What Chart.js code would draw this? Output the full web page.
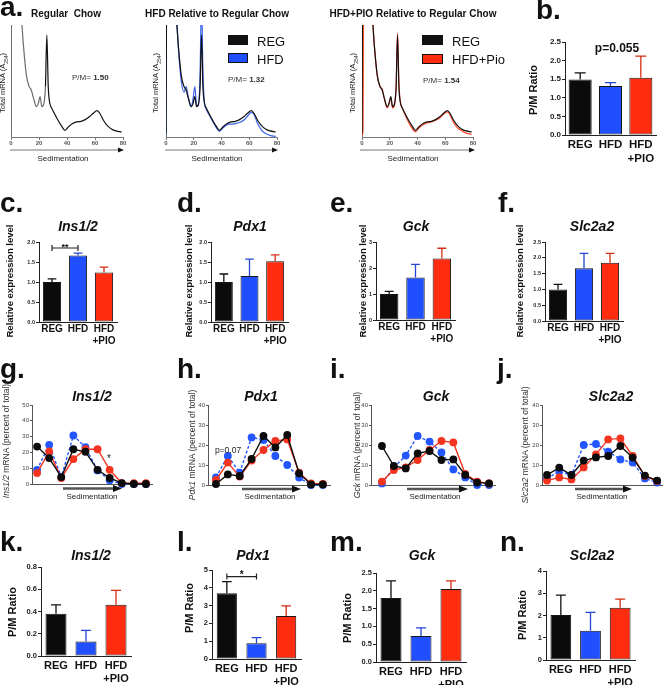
<!DOCTYPE html>
<html>
<head>
<meta charset="utf-8">
<script src="https://cdn.jsdelivr.net/npm/chart.js@4.4.1/dist/chart.umd.min.js"></script>
<style>
html,body{margin:0;padding:0;background:#fff;}
body{width:663px;height:685px;position:relative;overflow:hidden;font-family:"Liberation Sans",Arial,Helvetica,sans-serif;color:#111;}
canvas{position:absolute;}
.t{position:absolute;white-space:nowrap;line-height:1;}
.box{position:absolute;border:1px solid #111;box-sizing:border-box;}
#ov{position:absolute;left:0;top:0;z-index:3;}
</style>
</head>
<body>
<svg id="ov" width="663" height="685"></svg>
<script>
// ================= DATA =================
const groups = ['REG', 'HFD', ['HFD', '+PIO']];

// polysome profiles (panel a), sedimentation position vs A254 (relative units)
const sedX    = [0, 0.7, 1.3, 7.5, 9, 11, 13, 14.5, 16, 18.2, 19.5, 20.8, 22, 23.5, 24.6, 25.6, 26.6, 27.6, 29, 31, 34, 36.5, 38.5, 41, 44, 47, 50, 53, 56, 59, 61.5, 63.5, 66, 69, 72, 75, 79];
const profReg = [3, 180, 180, 105, 80, 55, 45, 42, 35, 27, 30, 36, 27, 30, 45, 91, 45, 31, 26, 21, 14, 9, 6, 9, 12, 13.5, 14, 15.5, 18, 21.5, 23.5, 21, 15, 10, 7, 5.5, 4.5];
const profHfd = [2, 180, 180, 110, 78, 50, 40, 45, 36, 27, 34, 45, 29, 28, 60, 125, 60, 32, 25, 20, 13, 8, 5, 8, 11, 11.5, 12, 13, 15, 19, 22, 20, 12, 6, 3, 1.5, 0.5];
const profPio = [1, 5, 150, 108, 80, 55, 45, 43, 35, 26, 30, 35, 26, 29, 45, 93, 48, 32, 26, 20, 12, 7, 4.5, 8, 11, 12.5, 13.5, 15, 17, 20.5, 22.5, 19.5, 13, 8, 5.5, 3.5, 2.5];
const profTicks = [0, 20, 40, 60, 80];

// b: P/M ratio
const bMean = [1.49, 1.32, 1.54], bErr = [0.18, 0.09, 0.58];
// c-f: relative expression level
const cMean = [1.0, 1.66, 1.24], cErr = [0.08, 0.06, 0.13];
const dMean = [1.0, 1.15, 1.52], dErr = [0.20, 0.42, 0.16];
const eMean = [1.0, 1.63, 2.37], eErr = [0.10, 0.51, 0.39];
const fMean = [1.0, 1.67, 1.84], fErr = [0.16, 0.47, 0.30];
// g-j: mRNA percent of total per gradient fraction
const fractions = [1, 2, 3, 4, 5, 6, 7, 8, 9, 10];
const gReg = [23.7, 16.4, 4.4, 22, 20.4, 9, 3.8, 0.6, 0, 0];
const gHfd = [9, 24.8, 4.4, 30.7, 23.3, 8.6, 2.3, 0, 0, 0];
const gPio = [6.9, 20.6, 3.8, 15.8, 22, 22, 9, 0.6, 0.5, 0.5];
const hReg = [0.5, 5.3, 4.5, 13, 24.5, 18.8, 25, 5.8, 0.3, 0.3];
const hHfd = [3.8, 14.5, 6.2, 23.8, 22.5, 14.5, 10, 3.7, 0, 0];
const hPio = [2.5, 11.2, 4.2, 12.2, 17.5, 22, 22.8, 6.2, 0.8, 0.5];
const iReg = [19.5, 9.5, 8.3, 15.8, 17, 12.5, 12.8, 5, 1.2, 0.8];
const iHfd = [0.8, 8.8, 14.7, 24.5, 21.7, 16.3, 7.8, 3.8, 0, 0];
const iPio = [1.7, 7.5, 8.8, 12.5, 17.5, 22, 21.3, 5.5, 1.7, 0.8];
const jReg = [5, 8.7, 5, 12.2, 13.8, 14.5, 19.5, 13.7, 4.7, 2.2];
const jHfd = [3.3, 6.7, 5, 20, 20.5, 16.7, 12.8, 11.2, 3.3, 1.2];
const jPio = [2.2, 3.8, 2.8, 8.8, 15.3, 22.8, 23.3, 14.5, 4.5, 2];
// k-n: P/M ratio per gene
const kMean = [0.38, 0.13, 0.46], kErr = [0.08, 0.10, 0.13];
const lMean = [3.70, 0.88, 2.42], lErr = [0.65, 0.32, 0.56];
const mMean = [1.80, 0.73, 2.05], mErr = [0.48, 0.23, 0.23];
const nMean = [2.02, 1.32, 2.35], nErr = [0.90, 0.82, 0.39];

// ================= STYLE =================
const BLACK = '#0b0b0b', BLUE = '#1f4fff', RED = '#ff2c10';
const LBLUE = '#2356ff', LRED = '#f5341f';
const FONT = '"Liberation Sans", Arial, Helvetica, sans-serif';
Chart.defaults.font.family = FONT;
Chart.defaults.animation = false;
Chart.defaults.events = [];
Chart.defaults.plugins.legend.display = false;
Chart.defaults.plugins.tooltip.enabled = false;

function mkCanvas(x, y, w, h) {
  const c = document.createElement('canvas');
  c.width = w; c.height = h;
  c.style.left = x + 'px'; c.style.top = y + 'px';
  c.style.width = w + 'px'; c.style.height = h + 'px';
  document.body.appendChild(c);
  return c;
}

const errBars = {
  id: 'errBars',
  afterDatasetsDraw(chart) {
    const ds = chart.data.datasets[0];
    if (!ds.err) return;
    const meta = chart.getDatasetMeta(0), ys = chart.scales.y, ctx = chart.ctx;
    const cols = ['#111', '#2446d6', '#d62a12'];
    meta.data.forEach((bar, i) => {
      const top = ys.getPixelForValue(ds.data[i] + ds.err[i]);
      const w = bar.width * 0.48;
      ctx.save();
      ctx.strokeStyle = cols[i]; ctx.lineWidth = 1.3;
      ctx.beginPath();
      ctx.moveTo(bar.x, bar.y); ctx.lineTo(bar.x, top);
      ctx.moveTo(bar.x - w / 2, top); ctx.lineTo(bar.x + w / 2, top);
      ctx.stroke();
      ctx.restore();
    });
    const b = ds.bracket;
    if (b) {
      const y = ys.getPixelForValue(b.value);
      const x1 = meta.data[b.from].x, x2 = meta.data[b.to].x;
      ctx.save();
      ctx.strokeStyle = '#222'; ctx.lineWidth = 1.2;
      ctx.beginPath();
      ctx.moveTo(x1, y); ctx.lineTo(x2, y);
      ctx.moveTo(x1, y - 3); ctx.lineTo(x1, y + 3);
      ctx.moveTo(x2, y - 3); ctx.lineTo(x2, y + 3);
      ctx.stroke();
      ctx.fillStyle = '#111';
      ctx.font = 'bold ' + b.fs + 'px ' + FONT;
      ctx.textAlign = 'center'; ctx.textBaseline = 'alphabetic';
      ctx.fillText(b.text, (x1 + x2) / 2, y + b.dy);
      ctx.restore();
    }
  }
};

function barChart(geo, means, errs, yMax, yStep, dec, o) {
  const yW = 24, xH = 34, padT = 6, padR = 3;
  const [L, R, T, B] = geo;
  const cv = mkCanvas(L - yW, T - padT, yW + (R - L) + padR, padT + (B - T) + xH);
  new Chart(cv, {
    type: 'bar',
    data: { labels: groups, datasets: [{
      data: means, err: errs, bracket: o.bracket,
      backgroundColor: [BLACK, BLUE, RED], borderColor: '#151515', borderWidth: 1,
      borderSkipped: false, categoryPercentage: 1, barPercentage: o.bp
    }]},
    options: {
      responsive: false, animation: false,
      layout: { padding: { top: padT, right: padR, left: 0, bottom: 0 } },
      scales: {
        x: {
          grid: { display: false, drawTicks: false },
          border: { display: true, color: '#222', width: 1 },
          ticks: { font: { size: o.xfs, weight: 'bold' }, color: '#111', padding: o.xpad, maxRotation: 0, autoSkip: false },
          afterFit: s => { s.height = xH; }
        },
        y: {
          min: 0, max: yMax,
          grid: { display: true, drawOnChartArea: false, drawTicks: true, tickLength: 3, color: '#222' },
          border: { display: true, color: '#222', width: 1 },
          ticks: { stepSize: yStep, font: { size: o.yfs, weight: 'bold' }, color: '#222', padding: 1, callback: v => v.toFixed(dec) },
          afterFit: s => { s.width = yW; }
        }
      }
    },
    plugins: [errBars]
  });
}

function lineSet(vals, color, dash, order) {
  return {
    data: fractions.map((f, i) => ({ x: f, y: vals[i] })),
    borderColor: color, backgroundColor: color,
    pointBackgroundColor: color, pointBorderColor: color, pointBorderWidth: 0,
    borderDash: dash, borderWidth: 1.4, pointRadius: 3.9, order: order, tension: 0, clip: false
  };
}

function lineChart(geo, reg, hfd, pio, yMax, xMin, xMax) {
  const yW = 16, xH = 6, padT = 6, padR = 4;
  const [L, R, T, B] = geo;
  const cv = mkCanvas(L - yW, T - padT, yW + (R - L) + padR, padT + (B - T) + xH);
  new Chart(cv, {
    type: 'line',
    data: { datasets: [lineSet(reg, BLACK, [], 1), lineSet(pio, LRED, [], 2), lineSet(hfd, LBLUE, [3, 2], 3)] },
    options: {
      responsive: false, animation: false,
      layout: { padding: { top: padT, right: padR, left: 0, bottom: 0 } },
      scales: {
        x: {
          type: 'linear', min: xMin, max: xMax,
          grid: { display: false, drawTicks: false },
          border: { display: true, color: '#555', width: 1 },
          ticks: { display: false },
          afterFit: s => { s.height = xH; }
        },
        y: {
          min: 0, max: yMax,
          grid: { display: true, drawOnChartArea: false, drawTicks: true, tickLength: 2, color: '#555' },
          border: { display: true, color: '#555', width: 1 },
          ticks: { stepSize: 10, font: { size: 6 }, color: '#444', padding: 1 },
          afterFit: s => { s.width = yW; }
        }
      }
    }
  });
}

function profSet(vals, color, seg) {
  const d = {
    data: sedX.map((x, i) => ({ x: x, y: vals[i] })),
    borderColor: color, borderWidth: 1.2, pointRadius: 0,
    cubicInterpolationMode: 'monotone', fill: false
  };
  if (seg) d.segment = { borderColor: c => (c.p0.parsed.x < 24 ? '#6d6d6d' : '#111') };
  return d;
}

function profChart(geo, sets) {
  const yW = 3, xH = 14, padT = 0, padR = 6;
  const [L, R, T, B] = geo;
  const cv = mkCanvas(L - yW, T - padT, yW + (R - L) + padR, padT + (B - T) + xH);
  new Chart(cv, {
    type: 'line',
    data: { datasets: sets },
    options: {
      responsive: false, animation: false,
      layout: { padding: { top: padT, right: padR, left: 0, bottom: 0 } },
      scales: {
        x: {
          type: 'linear', min: 0, max: 80,
          afterBuildTicks: s => { s.ticks = profTicks.map(v => ({ value: v })); },
          grid: { display: true, drawOnChartArea: false, drawTicks: true, tickLength: 3, color: '#777' },
          border: { display: true, color: '#777', width: 1 },
          ticks: { font: { size: 6, weight: 'bold' }, color: '#555', padding: 0, maxRotation: 0 },
          afterFit: s => { s.height = xH; }
        },
        y: {
          min: 0, max: 100,
          grid: { display: false },
          border: { display: true, color: '#777', width: 1 },
          ticks: { display: false },
          afterFit: s => { s.width = yW; }
        }
      }
    }
  });
}

// ================= CHARTS =================
profChart([11, 123, 25, 137], [profSet(profReg, '#111', true)]);
profChart([166, 277, 25, 137], [profSet(profReg, '#111'), profSet(profHfd, '#3a62ea')]);
profChart([362, 473, 25, 137], [profSet(profReg, '#111'), profSet(profPio, '#ff4a2e')]);

barChart([565, 656, 42, 135], bMean, bErr, 2.5, 0.5, 1, { bp: 0.76, xfs: 11.5, yfs: 8, xpad: 3 });

barChart([39, 117, 242, 322], cMean, cErr, 2, 0.5, 1, { bp: 0.7, xfs: 10, yfs: 5.5, xpad: 1,
  bracket: { from: 0, to: 1, value: 1.85, text: '**', fs: 9, dy: 1.5 } });
barChart([211, 288, 242, 322], dMean, dErr, 2, 0.5, 1, { bp: 0.7, xfs: 10, yfs: 5.5, xpad: 1 });
barChart([376, 455, 242, 320], eMean, eErr, 3, 1, 0, { bp: 0.7, xfs: 10, yfs: 5.5, xpad: 1 });
barChart([545, 623, 242, 321], fMean, fErr, 2.5, 0.5, 1, { bp: 0.7, xfs: 10, yfs: 5.5, xpad: 1 });

lineChart([32, 152, 405, 484], gReg, gHfd, gPio, 50, 0.58, 10.5);
lineChart([208, 330, 405, 485], hReg, hHfd, hPio, 40, 0.33, 10.6);
lineChart([371, 495, 405, 485], iReg, iHfd, iPio, 40, 0.08, 10.5);
lineChart([542, 662, 405, 485], jReg, jHfd, jPio, 40, 0.59, 10.4);

barChart([41, 131, 567, 656], kMean, kErr, 0.8, 0.2, 1, { bp: 0.7, xfs: 11, yfs: 7.5, xpad: 3 });
barChart([212, 301, 570, 659], lMean, lErr, 5, 1, 0, { bp: 0.68, xfs: 11, yfs: 7.5, xpad: 3,
  bracket: { from: 0, to: 1, value: 4.63, text: '*', fs: 10, dy: 1 } });
barChart([376, 466, 573, 662], mMean, mErr, 2.5, 0.5, 1, { bp: 0.7, xfs: 11, yfs: 7.5, xpad: 3 });
barChart([546, 635, 571, 660], nMean, nErr, 4, 1, 0, { bp: 0.7, xfs: 11, yfs: 7.5, xpad: 3 });

// ================= TEXT =================
function T(html, x, y, fs, o) {
  o = o || {};
  const d = document.createElement('div');
  d.className = 't'; d.innerHTML = html;
  d.style.fontSize = fs + 'px';
  if (o.b) d.style.fontWeight = 'bold';
  if (o.i) d.style.fontStyle = 'italic';
  d.style.color = o.c || '#111';
  d.style.left = x + 'px'; d.style.top = y + 'px';
  let tr = o.a === 'l' ? 'translate(0,-50%)' : 'translate(-50%,-50%)';
  if (o.r) tr = 'translate(-50%,-50%) rotate(-90deg)';
  d.style.transform = tr;
  d.style.zIndex = 4;
  document.body.appendChild(d);
}
// panel letters
[['a.', 0, 17], ['b.', 536, 20], ['c.', 0, 213], ['d.', 177, 213], ['e.', 330, 213], ['f.', 498, 213],
 ['g.', 0, 379], ['h.', 177, 379], ['i.', 330, 379], ['j.', 497, 379],
 ['k.', 0, 552], ['l.', 177, 552], ['m.', 330, 552], ['n.', 500, 552]].forEach(p => T(p[0], p[1], p[2] - 9.7, 28, { b: 1, a: 'l' }));

// row a titles
T('Regular&nbsp; Chow', 66, 14, 10, { b: 1 });
T('HFD Relative to Regular Chow', 217, 14, 10, { b: 1 });
T('HFD+PIO Relative to Regular Chow', 413, 14, 10, { b: 1 });
// row a y titles
T('Total mRNA (A<sub style="font-size:5px">254</sub>)', 4, 83, 7.5, { r: 1, c: '#222' });
T('Total mRNA (A<sub style="font-size:5px">254</sub>)', 157, 83, 7.5, { r: 1, c: '#222' });
T('Total mRNA (A<sub style="font-size:5px">254</sub>)', 354, 83, 7.5, { r: 1, c: '#222' });
// P/M annotations
T('P/M= <b>1.50</b>', 72, 78, 8, { a: 'l', c: '#333' });
T('P/M= <b>1.32</b>', 228, 80, 8, { a: 'l', c: '#333' });
T('P/M= <b>1.54</b>', 423, 81, 8, { a: 'l', c: '#333' });
// Sedimentation labels
T('Sedimentation', 63, 159, 8, { c: '#222' });
T('Sedimentation', 217, 159, 8, { c: '#222' });
T('Sedimentation', 413, 159, 8, { c: '#222' });
// legends
function box(x, y, w, h, col) {
  const d = document.createElement('div'); d.className = 'box';
  d.style.left = x + 'px'; d.style.top = y + 'px'; d.style.width = w + 'px'; d.style.height = h + 'px';
  d.style.background = col; document.body.appendChild(d);
}
box(228, 35, 20, 10, '#111'); box(228, 53, 20, 10, '#1f4fff');
T('REG', 257, 40.5, 13, { a: 'l' }); T('HFD', 257, 58.5, 13, { a: 'l' });
box(422, 35, 21, 10, '#111'); box(422, 54, 21, 10, '#ff2c10');
T('REG', 452, 40.5, 13, { a: 'l' }); T('HFD+Pio', 452, 59, 13, { a: 'l' });

// b
T('p=0.055', 617, 48, 12, { b: 1 });
T('P/M Ratio', 533, 90, 11, { b: 1, r: 1 });

// c-f
T('Ins1/2', 78, 226, 14, { b: 1, i: 1 });
T('Pdx1', 250, 226, 14, { b: 1, i: 1 });
T('Gck', 416, 226, 14, { b: 1, i: 1 });
T('Slc2a2', 592, 226, 14, { b: 1, i: 1 });
[10, 189, 363, 520].forEach(x => T('Relative expression level', x, 281, 9.5, { b: 1, r: 1 }));

// g-j
T('Ins1/2', 92, 396, 14, { b: 1, i: 1 });
T('Pdx1', 261, 396, 14, { b: 1, i: 1 });
T('Gck', 436, 396, 14, { b: 1, i: 1 });
T('Slc2a2', 611, 396, 14, { b: 1, i: 1 });
T('<i>Ins1/2</i> mRNA (percent of total)', 6, 441, 8.5, { r: 1, c: '#333' });
T('<i>Pdx1</i> mRNA (percent of total)', 192, 445, 8.5, { r: 1, c: '#333' });
T('<i>Gck</i> mRNA (percent of total)', 357, 445, 8.5, { r: 1, c: '#333' });
T('<i>Slc2a2</i> mRNA (percent of total)', 525, 445, 8.5, { r: 1, c: '#333' });
T('Sedimentation', 92, 497, 8, { c: '#222' });
T('Sedimentation', 270, 497, 8, { c: '#222' });
T('Sedimentation', 435, 497, 8, { c: '#222' });
T('Sedimentation', 602, 497, 8, { c: '#222' });
T('*', 109, 459, 10, { c: '#222' });
T('p=0.07', 228, 450, 8.5, { c: '#222' });

// k-n
T('Ins1/2', 91, 555, 14, { b: 1, i: 1 });
T('Pdx1', 253, 555, 14, { b: 1, i: 1 });
T('Gck', 422, 555, 14, { b: 1, i: 1 });
T('Scl2a2', 592, 555, 14, { b: 1, i: 1 });
T('P/M Ratio', 12, 612, 11, { b: 1, r: 1 });
T('P/M Ratio', 189, 608, 11, { b: 1, r: 1 });
T('P/M Ratio', 347, 618, 11, { b: 1, r: 1 });
T('P/M Ratio', 522, 615, 11, { b: 1, r: 1 });

// ================= ARROWS (decorative) =================
const ov = document.getElementById('ov');
function arrow(x1, x2, y, lw, col, hl, hh) {
  const ns = 'http://www.w3.org/2000/svg';
  const l = document.createElementNS(ns, 'line');
  l.setAttribute('x1', x1); l.setAttribute('x2', x2 - hl + 1); l.setAttribute('y1', y); l.setAttribute('y2', y);
  l.setAttribute('stroke', col); l.setAttribute('stroke-width', lw);
  ov.appendChild(l);
  const p = document.createElementNS(ns, 'polygon');
  p.setAttribute('points', `${x2},${y} ${x2 - hl},${y - hh} ${x2 - hl},${y + hh}`);
  p.setAttribute('fill', '#111');
  ov.appendChild(p);
}
arrow(10, 124, 150, 1, '#777', 6, 2.5);
arrow(165, 278, 150, 1, '#777', 6, 2.5);
arrow(360, 475, 150, 1, '#777', 6, 2.5);
arrow(63, 122, 488.5, 2.5, '#555', 9, 3.5);
arrow(242, 301, 489, 2.5, '#555', 9, 3.5);
arrow(407, 468, 489, 2.5, '#555', 9, 3.5);
arrow(575, 632, 489, 2.5, '#555', 9, 3.5);
</script>
</body>
</html>
